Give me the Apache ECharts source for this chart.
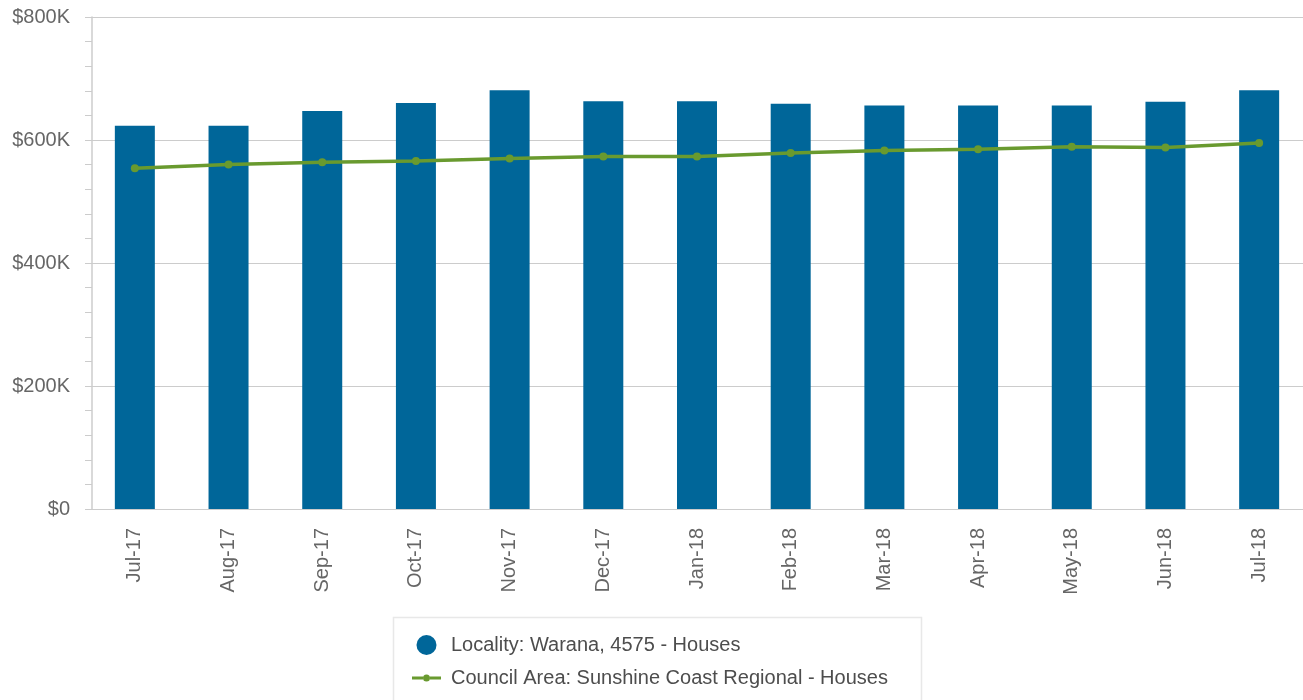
<!DOCTYPE html>
<html>
<head>
<meta charset="utf-8">
<script src="https://cdn.jsdelivr.net/npm/echarts@6/dist/echarts.min.js"></script>
<style>
  html, body { margin: 0; padding: 0; background: #fff; }
  #chart { width: 1303px; height: 700px; }
</style>
</head>
<body>
<div id="chart"></div>
<script>
// months on the x axis
const months = ['Jul-17', 'Aug-17', 'Sep-17', 'Oct-17', 'Nov-17', 'Dec-17', 'Jan-18',
  'Feb-18', 'Mar-18', 'Apr-18', 'May-18', 'Jun-18', 'Jul-18'];
// median price, locality (bars)
const localityValues = [623000, 623000, 647000, 660000, 681000, 663000, 663000,
  659000, 656000, 656000, 656000, 662000, 681000];
// median price, council area (line)
const councilValues = [554000, 560000, 564000, 566000, 570000, 573000, 573000,
  579000, 583000, 585000, 589000, 588000, 595000];
const localityName = 'Locality: Warana, 4575 - Houses';
const councilName = 'Council Area: Sunshine Coast Regional - Houses';

const font = "'Liberation Sans', Arial, sans-serif";
const myChart = echarts.init(document.getElementById('chart'));

const option = {
  backgroundColor: '#fff',
  animation: false,
  textStyle: { fontFamily: font },
  grid: {
    left: 88,
    width: 1218,
    top: 17,
    bottom: 191,
    outerBoundsMode: 'none'
  },
  // legend frame, runs off the bottom edge like the original
  graphic: [
    {
      type: 'rect',
      shape: { x: 393.5, y: 617.5, width: 528, height: 120 },
      style: { fill: 'none', stroke: '#e8e8e8', lineWidth: 1.5 },
      silent: true
    }
  ],
  legend: {
    orient: 'vertical',
    left: 393,
    top: 618,
    padding: [17, 34, 0, 19],
    itemGap: 13,
    itemWidth: 29,
    itemHeight: 20,
    textStyle: { fontSize: 20, color: '#4d4d4d', fontFamily: font, padding: [0, 0, 0, 5] },
    data: [
      { name: localityName, icon: 'circle', itemStyle: { borderWidth: 0 } },
      {
        name: councilName,
        icon: 'path://M0,4L11,4L11,7L0,7Z M18,4L29,4L29,7L18,7Z M11,5.5A3.5,3.5,0,1,1,18,5.5A3.5,3.5,0,1,1,11,5.5Z',
        itemStyle: { borderWidth: 0 }
      }
    ]
  },
  xAxis: {
    type: 'category',
    data: months,
    z: 3,
    axisLine: { lineStyle: { color: '#ccc', width: 1 } },
    axisTick: { alignWithLabel: true, length: 16, lineStyle: { color: '#ccd6eb', width: 1.5 } },
    axisLabel: {
      rotate: 90,
      margin: 19,
      fontSize: 20,
      color: '#666',
      fontFamily: font
    },
    splitLine: { show: false }
  },
  yAxis: {
    type: 'value',
    min: 0,
    max: 800000,
    interval: 200000,
    offset: -4,
    axisLine: { show: true, lineStyle: { color: '#ccc', width: 1.5 } },
    axisTick: { show: true, length: 7, lineStyle: { color: '#ccc' } },
    minorTick: { show: true, splitNumber: 5, length: 7, lineStyle: { color: '#ccc' } },
    axisLabel: {
      margin: 22,
      fontSize: 20,
      color: '#666',
      fontFamily: font,
      formatter: function (v) {
        return v === 0 ? '$0' : '$' + (v / 1000) + 'K';
      }
    },
    splitLine: { show: true, lineStyle: { color: '#ccc', width: 1 } }
  },
  series: [
    {
      name: localityName,
      type: 'bar',
      barWidth: 40,
      data: localityValues,
      itemStyle: { color: '#006699' }
    },
    {
      name: councilName,
      type: 'line',
      data: councilValues,
      symbol: 'circle',
      symbolSize: 8,
      lineStyle: { color: '#699a2f', width: 3.5 },
      itemStyle: { color: '#699a2f', borderWidth: 0 }
    }
  ]
};
myChart.setOption(option);
</script>
</body>
</html>
